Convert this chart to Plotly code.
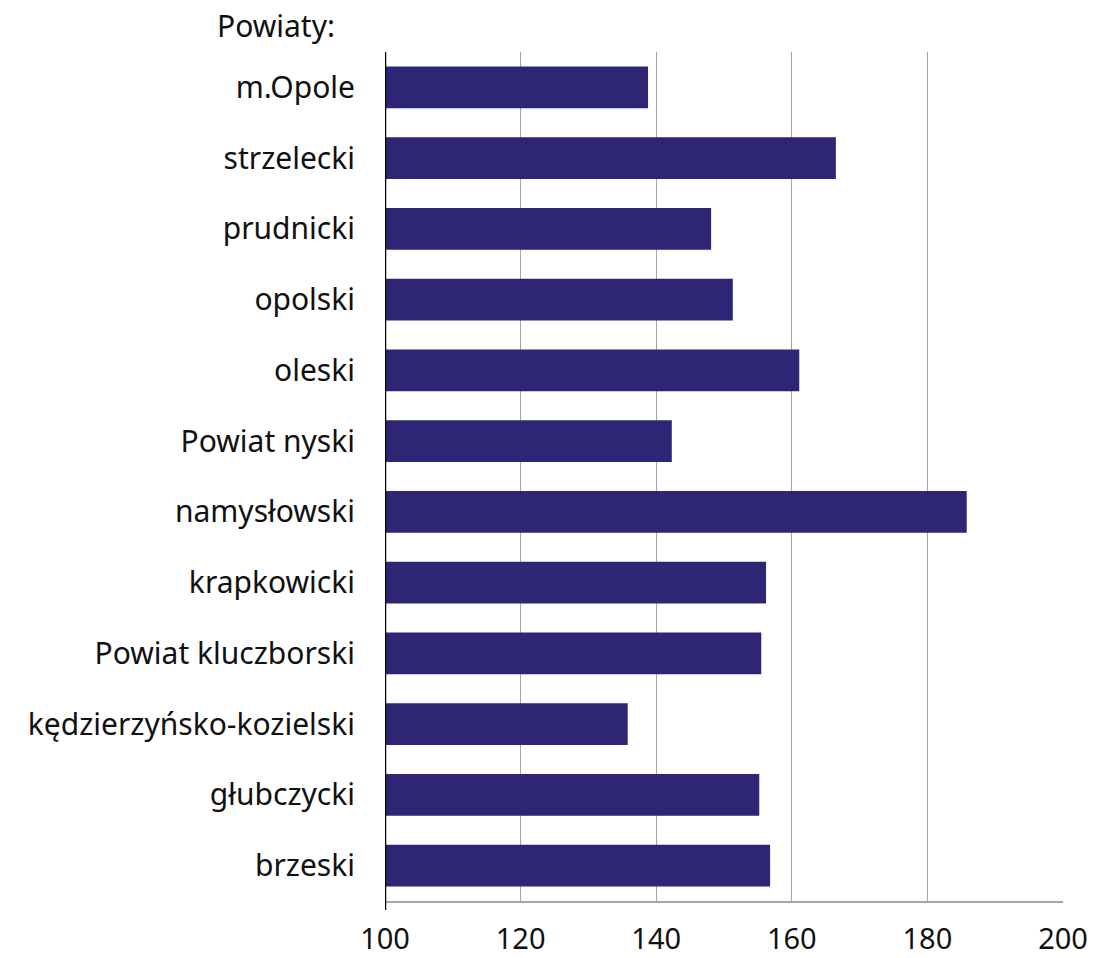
import plotly.graph_objects as go

categories = ["m.Opole", "strzelecki", "prudnicki", "opolski", "oleski", "Powiat nyski",
              "namysłowski", "krapkowicki", "Powiat kluczborski", "kędzierzyńsko-kozielski",
              "głubczycki", "brzeski"]
values = [138.8, 166.5, 148.1, 151.3, 161.1, 142.3, 185.8, 156.2, 155.5, 135.8, 155.2, 156.8]
x_ticks = [100, 120, 140, 160, 180, 200]
title_text = "Powiaty:"

FONT = "Noto Sans"
BAR = "#2E2575"
TXT = "#111111"
FS = 30

fig = go.Figure(go.Bar(
    y=categories, x=[v - 100 for v in values], base=100, orientation="h",
    marker=dict(color=BAR, line=dict(width=0)),
    hoverinfo="skip",
))

fig.update_layout(
    width=1094, height=958,
    margin=dict(l=385, r=31, t=52, b=57, autoexpand=False),
    paper_bgcolor="white", plot_bgcolor="white",
    bargap=0.41,
    showlegend=False,
    font=dict(family=FONT, size=FS, color=TXT),
    xaxis=dict(range=[100, 200], tickvals=x_ticks, ticktext=[str(t) for t in x_ticks],
               showgrid=True, gridcolor="#A6A6A6", gridwidth=1,
               showline=True, linecolor="#A6A6A6", linewidth=1.5,
               zeroline=False, ticks="", ticklabelstandoff=11, automargin=False,
               tickfont=dict(family=FONT, size=29, color=TXT)),
    yaxis=dict(categoryorder="array", categoryarray=categories[::-1],
               showgrid=False, zeroline=False, showline=False, ticks="",
               ticklabelstandoff=29, automargin=False,
               tickfont=dict(family=FONT, size=FS, color=TXT)),
    shapes=[dict(type="line", xref="x", yref="paper", x0=100, x1=100, y0=-0.0106, y1=1,
                 line=dict(color="black", width=2.5))],
    annotations=[dict(text=title_text, xref="paper", yref="paper", x=-0.0708, y=1.0,
                      xanchor="right", yanchor="bottom", yshift=4, showarrow=False,
                      font=dict(family=FONT, size=FS, color=TXT))],
)

fig.write_html("out.html", config={"displayModeBar": False},
               post_script="document.body.style.margin='0';document.body.style.overflow='hidden';")
